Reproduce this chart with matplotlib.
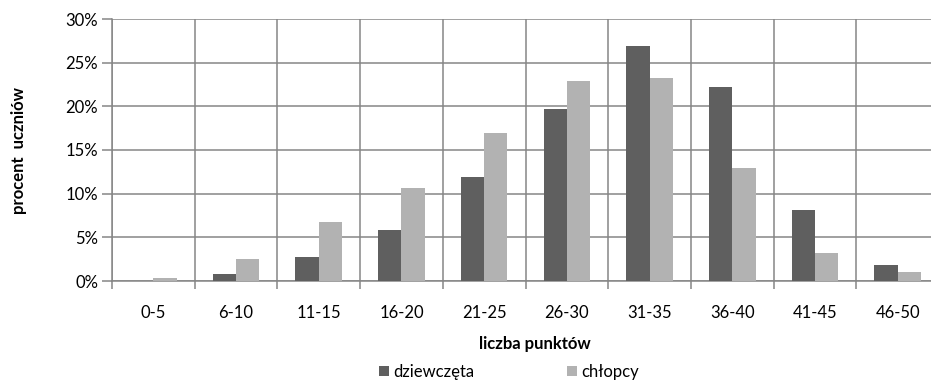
import matplotlib.pyplot as plt
import numpy as np
from matplotlib.ticker import PercentFormatter, FixedLocator

categories = ["0-5", "6-10", "11-15", "16-20", "21-25", "26-30", "31-35", "36-40", "41-45", "46-50"]
dziewczeta = [0.0, 0.8, 2.7, 5.8, 11.9, 19.7, 26.9, 22.2, 8.1, 1.8]
chlopcy = [0.3, 2.5, 6.7, 10.7, 16.9, 22.9, 23.2, 12.9, 3.2, 1.0]
yticks = [0, 5, 10, 15, 20, 25, 30]

plt.rcParams['font.family'] = ['Lato', 'DejaVu Sans']

W, H = 931, 385
fig = plt.figure(figsize=(W / 100, H / 100), dpi=100)
# plot area runs past the right edge in the original
ax = fig.add_axes([112 / W, 1 - 281 / H, (939 - 112) / W, (281 - 19) / H])

x = np.arange(len(categories))
bw = 0.282
ax.bar(x - bw / 2, dziewczeta, width=bw, color='#5f5f5f', label='dziewczęta', zorder=3)
ax.bar(x + bw / 2, chlopcy, width=bw, color='#b2b2b2', label='chłopcy', zorder=3)

ax.set_xlim(-0.5, len(categories) - 0.5)
ax.set_ylim(0, 30)
ax.set_yticks(yticks)
ax.yaxis.set_major_formatter(PercentFormatter(decimals=0))
ax.set_xticks(x)
ax.set_xticklabels(categories)
ax.xaxis.set_minor_locator(FixedLocator(np.arange(-0.5, len(categories), 1)))

gc = '#868686'
ax.grid(True, axis='y', which='major', color=gc, linewidth=1.1, zorder=0)
ax.grid(True, axis='x', which='minor', color=gc, linewidth=1.1, zorder=0)
ax.tick_params(axis='x', which='major', length=0, pad=17, labelsize=12)
ax.tick_params(axis='x', which='minor', length=6, color=gc, width=1.1)
ax.tick_params(axis='y', length=7, color=gc, width=1.1, labelsize=12, pad=3)
for side in ['top', 'right']:
    ax.spines[side].set_visible(False)
ax.spines['left'].set_color(gc)
ax.spines['bottom'].set_color(gc)
ax.spines['left'].set_linewidth(1.1)
ax.spines['bottom'].set_linewidth(1.1)

fig.text(535 / W, 1 - 344 / H, 'liczba punktów', ha='center', va='center', fontsize=12, fontweight='bold')
fig.text(19 / W, 1 - 150 / H, 'procent  uczniów', ha='center', va='center', rotation=90, fontsize=12, fontweight='bold')

ax.legend(loc='center', bbox_to_anchor=(509 / W, 1 - 372 / H), bbox_transform=fig.transFigure,
          ncol=2, frameon=False, fontsize=12, handlelength=0.6, handleheight=0.6,
          handletextpad=0.3, columnspacing=5.5)

fig.savefig('out.png', dpi=100)
